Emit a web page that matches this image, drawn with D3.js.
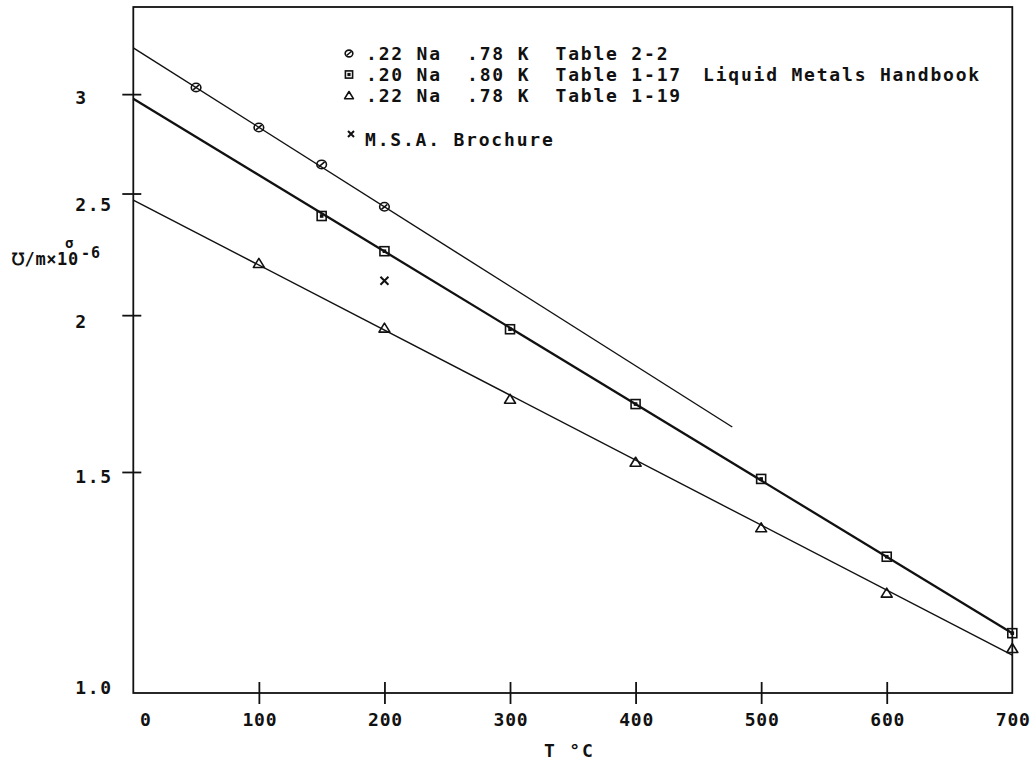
<!DOCTYPE html>
<html>
<head>
<meta charset="utf-8">
<script src="https://cdn.jsdelivr.net/npm/d3@7"></script>
<style>
  body { margin: 0; background: #fff; }
  text { font-family: "DejaVu Sans Mono", monospace; font-weight: bold; fill: #111; font-size: 18px; }
</style>
</head>
<body>
<svg id="chart" width="1036" height="770"></svg>
<script>
// Electrical conductivity of NaK alloys vs. temperature (semi-log plot)

// x axis: temperature, °C
const xTicks = [0, 100, 200, 300, 400, 500, 600, 700];
const xTickLabels = ["0", "100", "200", "300", "400", "500", "600", "700"];

// y axis: conductivity, mho/m x 10^-6 (log scale)
const yTicks = [1.0, 1.5, 2, 2.5, 3];
const yTickLabels = ["1.0", "1.5", "2", "2.5", "3"];

// .22 Na .78 K, Table 2-2
const circleT = [50, 100, 150, 200];
const circleV = [3.037, 2.822, 2.637, 2.440];

// .20 Na .80 K, Table 1-17
const squareT = [150, 200, 300, 400, 500, 600, 700];
const squareV = [2.399, 2.249, 1.949, 1.699, 1.481, 1.284, 1.116];

// .22 Na .78 K, Table 1-19
const triangleT = [100, 200, 300, 400, 500, 600, 700];
const triangleV = [2.199, 1.953, 1.714, 1.527, 1.354, 1.201, 1.085];

// M.S.A. Brochure
const msaT = [200];
const msaV = [2.130];

// straight fitted lines (end points)
const fitCircleT = [0, 477];
const fitCircleV = [3.266, 1.629];
const fitSquareT = [0, 700];
const fitSquareV = [2.975, 1.116];
const fitTriangleT = [0, 700];
const fitTriangleV = [2.470, 1.072];

const legendRows = [
  ".22 Na  .78 K  Table 2-2",
  ".20 Na  .80 K  Table 1-17",
  ".22 Na  .78 K  Table 1-19"
];
const legendSource = "Liquid Metals Handbook";
const msaLabel = "M.S.A. Brochure";

// ---------------------------------------------------------------
const svg = d3.select("#chart");
const ink = "#111";

const x = d3.scaleLinear().domain([0, 700]).range([133.3, 1012.3]);
const y = d3.scaleLog().domain([1, 3.52]).range([693, 7]);

const zip = (a, b) => a.map((d, i) => [d, b[i]]);

// frame
svg.append("rect")
  .attr("x", x(0)).attr("y", y(3.52))
  .attr("width", x(700) - x(0)).attr("height", y(1) - y(3.52))
  .attr("fill", "none").attr("stroke", ink).attr("stroke-width", 1.8);

// y axis
const yLabelNudge = [0, 11, 12, 17, 9];
const gy = svg.append("g").attr("transform", `translate(${x(0)},0)`)
  .call(d3.axisLeft(y).tickValues(yTicks)
    .tickFormat((d, i) => yTickLabels[i]).tickSize(11));
gy.select(".domain").remove();
gy.attr("font-family", null).attr("font-size", null);
gy.selectAll(".tick line").attr("x1", 8).attr("stroke", ink).attr("stroke-width", 1.8);
gy.selectAll(".tick").filter(d => d === 1).select("line").remove();
gy.selectAll(".tick text")
  .attr("x", -58).attr("dy", 0).attr("y", (d, i) => yLabelNudge[i])
  .attr("text-anchor", "start").style("letter-spacing", "1.6px");

// x axis
const gx = svg.append("g").attr("transform", `translate(0,${y(1)})`)
  .call(d3.axisBottom(x).tickValues(xTicks)
    .tickFormat((d, i) => xTickLabels[i]).tickSize(11));
gx.select(".domain").remove();
gx.attr("font-family", null).attr("font-size", null);
gx.selectAll(".tick line").attr("y1", -11).attr("stroke", ink).attr("stroke-width", 1.8);
gx.selectAll(".tick").filter(d => d === 0 || d === 700).select("line").remove();
gx.selectAll(".tick text")
  .attr("y", 33).attr("dy", 0)
  .attr("x", d => d === 0 ? 12 : 0.5)
  .style("letter-spacing", "0.8px");

// axis titles
svg.append("text").attr("x", 544).attr("y", 757)
  .style("white-space", "pre").style("letter-spacing", "1.8px")
  .text("T °C");

svg.append("text").attr("x", 11).attr("y", 265)
  .style("font-size", "17px").style("letter-spacing", "0.6px")
  .text("\u2127/m\u00d710");
svg.append("text").attr("x", 81).attr("y", 258)
  .style("font-size", "15px").style("letter-spacing", "1px").text("-6");
svg.append("text").attr("x", 65).attr("y", 248)
  .style("font-size", "14px").text("σ");

// fitted lines
const line = d3.line().x(d => x(d[0])).y(d => y(d[1]));
svg.append("path").datum(zip(fitCircleT, fitCircleV)).attr("d", line)
  .attr("fill", "none").attr("stroke", ink).attr("stroke-width", 1.4);
svg.append("path").datum(zip(fitSquareT, fitSquareV)).attr("d", line)
  .attr("fill", "none").attr("stroke", ink).attr("stroke-width", 2.3);
svg.append("path").datum(zip(fitTriangleT, fitTriangleV)).attr("d", line)
  .attr("fill", "none").attr("stroke", ink).attr("stroke-width", 1.4);

// marker glyphs
function marker(g, kind, cx, cy, s) {
  const m = g.append("g").attr("transform", `translate(${cx},${cy}) scale(${s})`)
    .attr("fill", "none").attr("stroke", ink).attr("stroke-width", 1.6 / s);
  if (kind === "circle") {
    m.append("ellipse").attr("rx", 4.8).attr("ry", 4.2);
    m.append("line").attr("x1", -3).attr("y1", 2.5).attr("x2", 3).attr("y2", -2.5);
  } else if (kind === "square") {
    m.append("rect").attr("x", -4.5).attr("y", -4.5).attr("width", 9).attr("height", 9);
    m.append("rect").attr("x", -1).attr("y", -1).attr("width", 2).attr("height", 2).attr("fill", ink);
  } else if (kind === "triangle") {
    m.append("path").attr("d", "M0,-5L5.5,4L-5.5,4Z").attr("stroke-linejoin", "round");
  } else {
    m.append("path").attr("d", "M-4,-4L4,4M-4,4L4,-4").attr("stroke-width", 2 / s);
  }
}

const marks = svg.append("g");
zip(circleT, circleV).forEach(d => marker(marks, "circle", x(d[0]), y(d[1]), 1));
zip(squareT, squareV).forEach(d => marker(marks, "square", x(d[0]), y(d[1]), 1));
zip(triangleT, triangleV).forEach(d => marker(marks, "triangle", x(d[0]), y(d[1]), 1));
zip(msaT, msaV).forEach(d => marker(marks, "cross", x(d[0]), y(d[1]), 1));

// legend
const legend = svg.append("g");
const kinds = ["circle", "square", "triangle"];
legendRows.forEach((t, i) => {
  const by = 60 + i * 21;
  marker(legend, kinds[i], 349, by - 6.5, 0.8);
  legend.append("text").attr("x", 366).attr("y", by)
    .style("white-space", "pre").style("letter-spacing", "1.8px").text(t);
});
legend.append("text").attr("x", 703).attr("y", 81)
  .style("white-space", "pre").style("letter-spacing", "1.8px").text(legendSource);
marker(legend, "cross", 351, 134, 0.75);
legend.append("text").attr("x", 365).attr("y", 146)
  .style("white-space", "pre").style("letter-spacing", "1.8px").text(msaLabel);
</script>
</body>
</html>
